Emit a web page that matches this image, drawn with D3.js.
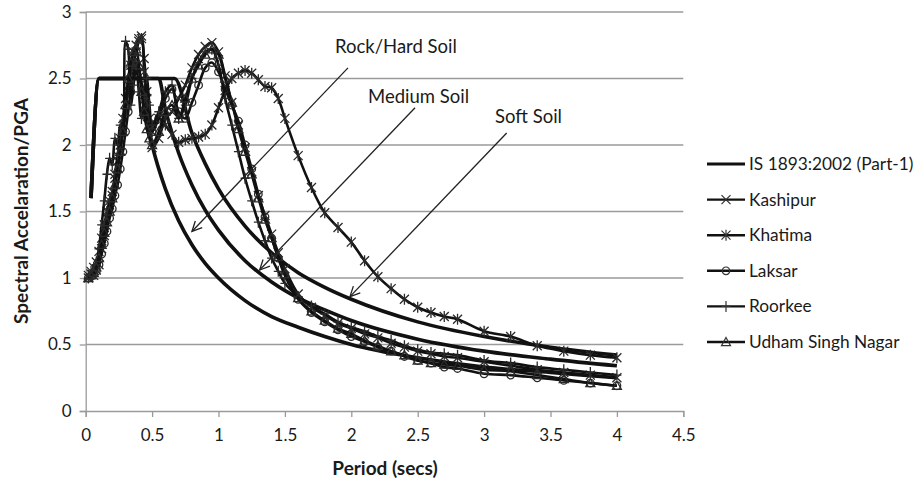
<!DOCTYPE html>
<html>
<head>
<meta charset="utf-8">
<script src="https://cdn.jsdelivr.net/npm/d3@7/dist/d3.min.js"></script>
<style>
  body { margin: 0; background: #fff; }
  svg text { font-family: Lato, "Open Sans", sans-serif; fill: #1a1a1a; }
</style>
</head>
<body>
<svg id="chart" width="920" height="484"></svg>
<script>
// periods (s) shared by the station spectra
const periods = [0.02,0.04,0.06,0.08,0.10,0.12,0.14,0.16,0.18,0.20,0.22,0.24,0.26,0.28,0.30,0.32,0.34,0.36,0.38,0.40,
  0.42,0.44,0.46,0.48,0.50,0.55,0.60,0.65,0.70,0.75,0.80,0.85,0.90,0.95,1.00,1.05,1.10,1.15,1.20,1.25,1.30,1.35,1.40,1.45,
  1.50,1.60,1.70,1.80,1.90,2.00,2.10,2.20,2.30,2.40,2.50,2.60,2.70,2.80,3.00,3.20,3.40,3.60,3.80,4.00];

const kashipur = [1.00,1.03,1.02,1.06,1.10,1.22,1.32,1.45,1.55,1.62,1.75,1.88,2.00,2.10,2.25,2.40,2.55,2.62,2.70,2.78,
  2.82,2.65,2.40,2.15,1.98,2.05,2.20,2.25,2.35,2.45,2.58,2.68,2.74,2.77,2.70,2.52,2.32,2.15,1.98,1.80,1.62,1.47,1.33,1.19,
  1.07,0.88,0.78,0.72,0.66,0.62,0.58,0.55,0.51,0.48,0.45,0.43,0.41,0.40,0.37,0.34,0.31,0.29,0.27,0.25];

const khatima = [1.02,1.05,1.08,1.12,1.20,1.30,1.40,1.50,1.58,1.65,1.78,1.92,2.05,2.20,2.35,2.45,2.60,2.70,2.75,2.80,
  2.80,2.55,2.35,2.20,2.10,2.20,2.15,2.08,2.02,2.04,2.05,2.06,2.08,2.15,2.28,2.41,2.50,2.54,2.56,2.54,2.49,2.44,2.43,2.35,
  2.20,1.92,1.68,1.49,1.38,1.27,1.13,1.01,0.92,0.84,0.78,0.74,0.71,0.69,0.60,0.56,0.49,0.45,0.42,0.40];

const laksar = [1.00,1.01,1.03,1.05,1.10,1.18,1.26,1.35,1.45,1.52,1.62,1.70,1.82,1.95,2.10,2.25,2.40,2.55,2.62,2.58,
  2.45,2.30,2.20,2.15,2.10,2.20,2.35,2.42,2.25,2.20,2.32,2.45,2.58,2.62,2.55,2.42,2.30,2.18,2.00,1.82,1.63,1.46,1.30,1.15,
  1.02,0.84,0.74,0.67,0.61,0.56,0.52,0.48,0.45,0.41,0.38,0.36,0.33,0.32,0.28,0.27,0.25,0.23,0.21,0.19];

const roorkee = [1.00,1.02,1.05,1.10,1.22,1.40,1.58,1.78,1.90,1.85,2.05,2.00,2.15,2.10,2.78,2.72,2.30,2.45,2.60,2.40,
  2.20,2.35,2.50,2.30,2.15,2.25,2.40,2.45,2.20,2.30,2.50,2.62,2.70,2.72,2.60,2.35,2.15,1.95,1.75,1.58,1.42,1.28,1.15,1.05,
  0.96,0.86,0.79,0.73,0.67,0.63,0.60,0.56,0.53,0.49,0.46,0.44,0.43,0.42,0.38,0.36,0.33,0.31,0.29,0.27];

const udham = [1.00,1.02,1.04,1.08,1.15,1.25,1.34,1.42,1.50,1.60,1.70,1.82,1.95,2.10,2.30,2.50,2.62,2.70,2.72,2.60,
  2.40,2.25,2.12,2.05,2.00,2.10,2.25,2.30,2.20,2.35,2.50,2.60,2.68,2.72,2.68,2.50,2.32,2.12,1.95,1.78,1.60,1.44,1.30,1.16,
  1.03,0.85,0.75,0.68,0.62,0.58,0.53,0.49,0.45,0.42,0.38,0.36,0.35,0.34,0.31,0.30,0.27,0.24,0.21,0.19];

// IS 1893:2002 design spectra
const rockT  = [0.04,0.10,0.40,0.50,0.60,0.70,0.80,0.90,1.00,1.20,1.40,1.60,1.80,2.00,2.50,3.00,3.50,4.00];
const rockSa = [1.60,2.50,2.50,2.00,1.67,1.43,1.25,1.11,1.00,0.83,0.71,0.63,0.56,0.50,0.40,0.33,0.29,0.25];
const mediumT  = [0.04,0.10,0.55,0.60,0.70,0.80,0.90,1.00,1.20,1.40,1.60,1.80,2.00,2.50,3.00,3.50,4.00];
const mediumSa = [1.60,2.50,2.50,2.27,1.94,1.70,1.51,1.36,1.13,0.97,0.85,0.76,0.68,0.54,0.45,0.39,0.34];
const softT  = [0.04,0.10,0.67,0.80,0.90,1.00,1.20,1.40,1.60,1.80,2.00,2.50,3.00,3.50,4.00];
const softSa = [1.60,2.50,2.50,2.09,1.86,1.67,1.39,1.19,1.04,0.93,0.84,0.67,0.56,0.48,0.42];

const xTicks = [0,0.5,1,1.5,2,2.5,3,3.5,4,4.5];
const yTicks = [0,0.5,1,1.5,2,2.5,3];

const legendLabels = ['IS 1893:2002 (Part-1)','Kashipur','Khatima','Laksar','Roorkee','Udham Singh Nagar'];

// soil annotations: label, arrow start [T, Sa], arrow tip [T, Sa]
const soilLabels = ['Rock/Hard Soil','Medium Soil','Soft Soil'];
const arrowStart = [[1.975,2.58],[2.48,2.28],[3.17,2.09]];
const arrowTip   = [[0.80,1.35],[1.31,1.06],[1.99,0.86]];

const svg = d3.select('#chart');

const x = d3.scaleLinear().domain([0,4.5]).range([85.7,683.3]);
const y = d3.scaleLinear().domain([0,3]).range([411,12]);

// gridlines
svg.append('g')
  .selectAll('line')
  .data(yTicks.filter(d => d > 0))
  .join('line')
  .attr('x1', x(0)).attr('x2', x(4.5))
  .attr('y1', d => y(d)).attr('y2', d => y(d))
  .attr('stroke', '#9a9a9a').attr('stroke-width', 1.3);

// axes
const xAxis = svg.append('g')
  .attr('transform', `translate(0,${y(0)})`)
  .call(d3.axisBottom(x).tickValues(xTicks).tickFormat(d3.format('')).tickSize(6).tickPadding(12));
const yAxis = svg.append('g')
  .attr('transform', `translate(${x(0)},0)`)
  .call(d3.axisLeft(y).tickValues(yTicks).tickFormat(d3.format('')).tickSize(6).tickPadding(8));

[xAxis, yAxis].forEach(g => {
  g.select('.domain').attr('stroke', '#9a9a9a').attr('stroke-width', 1.3);
  g.selectAll('.tick line').attr('stroke', '#9a9a9a').attr('stroke-width', 1.3);
  g.selectAll('.tick text').style('font-size', '17px').style('font-family', 'Lato, sans-serif').attr('fill', '#1a1a1a');
});

// axis titles
svg.append('text')
  .attr('x', 385).attr('y', 475)
  .attr('text-anchor', 'middle')
  .style('font-size', '19px').style('font-weight', 'bold')
  .text('Period (secs)');
svg.append('text')
  .attr('transform', 'translate(21,211) rotate(-90)')
  .attr('text-anchor', 'middle')
  .attr('dy', '0.35em')
  .style('font-size', '19px').style('font-weight', 'bold')
  .text('Spectral Accelaration/PGA');

// IS code curves
const isLine = d3.line().x(d => x(d[0])).y(d => y(d[1])).curve(d3.curveMonotoneX);
[[rockT, rockSa],[mediumT, mediumSa],[softT, softSa]].forEach(([ts, sas]) => {
  svg.append('path')
    .datum(ts.map((t, i) => [t, sas[i]]))
    .attr('d', isLine)
    .attr('fill', 'none')
    .attr('stroke', '#111')
    .attr('stroke-width', 3.6);
});

// marker shapes
const s = 4.5;
const markerPath = {
  x: `M${-s},${-s}L${s},${s}M${-s},${s}L${s},${-s}`,
  star: `M${-s},${-s}L${s},${s}M${-s},${s}L${s},${-s}M0,${-s-1}L0,${s+1}`,
  circle: d3.symbol(d3.symbolCircle, 45)(),
  plus: `M0,${-s-1}L0,${s+1}M${-s},0L${s},0`,
  triangle: `M0,${-s}L${s},${s*0.8}L${-s},${s*0.8}Z`
};

const stations = [
  {name: 'Kashipur', values: kashipur, marker: 'x'},
  {name: 'Khatima', values: khatima, marker: 'star'},
  {name: 'Laksar', values: laksar, marker: 'circle'},
  {name: 'Roorkee', values: roorkee, marker: 'plus'},
  {name: 'Udham Singh Nagar', values: udham, marker: 'triangle'}
];

const stLine = d3.line().x(d => x(d[0])).y(d => y(d[1])).curve(d3.curveCatmullRom.alpha(0.5));

stations.forEach(st => {
  const pts = periods.map((t, i) => [t, st.values[i]]);
  const g = svg.append('g');
  g.append('path')
    .datum(pts)
    .attr('d', stLine)
    .attr('fill', 'none')
    .attr('stroke', '#111')
    .attr('stroke-width', 2.6);
  g.selectAll('path.mk')
    .data(pts)
    .join('path')
    .attr('class', 'mk')
    .attr('transform', d => `translate(${x(d[0])},${y(d[1])})`)
    .attr('d', markerPath[st.marker])
    .attr('fill', 'none')
    .attr('stroke', '#2a2a2a')
    .attr('stroke-width', 1.3);
});

// soil arrows and labels
const labelPos = [[335,53],[368,103],[495,123]];
soilLabels.forEach((lab, i) => {
  const [x0, y0] = [x(arrowStart[i][0]), y(arrowStart[i][1])];
  const [x1, y1] = [x(arrowTip[i][0]), y(arrowTip[i][1])];
  svg.append('line')
    .attr('x1', x0).attr('y1', y0).attr('x2', x1).attr('y2', y1)
    .attr('stroke', '#222').attr('stroke-width', 1.3);
  const ang = Math.atan2(y1 - y0, x1 - x0);
  const len = 11, spread = 0.45;
  const head = [ang + Math.PI - spread, ang + Math.PI + spread]
    .map(a => [x1 + len * Math.cos(a), y1 + len * Math.sin(a)]);
  svg.append('path')
    .attr('d', `M${head[0][0]},${head[0][1]}L${x1},${y1}L${head[1][0]},${head[1][1]}`)
    .attr('fill', 'none').attr('stroke', '#222').attr('stroke-width', 1.3);
  svg.append('text')
    .attr('x', labelPos[i][0]).attr('y', labelPos[i][1])
    .style('font-size', '18.5px')
    .text(lab);
});

// legend
const legend = svg.append('g').attr('transform', 'translate(707,164)');
legendLabels.forEach((lab, i) => {
  const row = legend.append('g').attr('transform', `translate(0,${i * 35.6})`);
  row.append('line')
    .attr('x1', 0).attr('x2', 38).attr('y1', 0).attr('y2', 0)
    .attr('stroke', '#111').attr('stroke-width', i === 0 ? 3.2 : 2.4);
  if (i > 0) {
    row.append('path')
      .attr('transform', 'translate(19,0)')
      .attr('d', markerPath[stations[i - 1].marker])
      .attr('fill', 'none').attr('stroke', '#333').attr('stroke-width', 1.2);
  }
  row.append('text')
    .attr('x', 42).attr('y', 0).attr('dy', '0.35em')
    .style('font-size', '17.3px')
    .text(lab);
});
</script>
</body>
</html>
